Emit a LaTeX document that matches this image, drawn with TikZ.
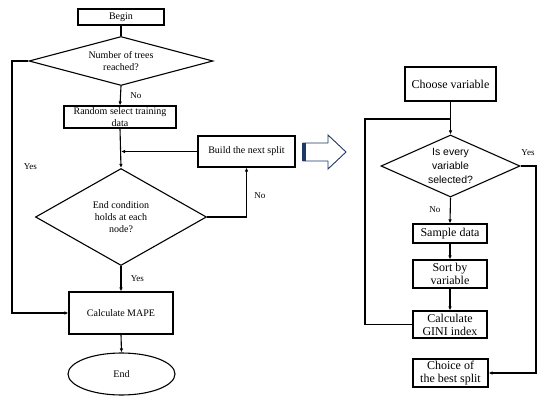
\documentclass[tikz,border=0pt]{standalone}
\usepackage{fontspec}
\setmainfont{Liberation Serif}
\newfontfamily\sansf{Liberation Sans}
\usetikzlibrary{shapes.geometric,arrows.meta}
\definecolor{arrownavy}{RGB}{31,56,100}
\begin{document}
\begin{tikzpicture}[x=1pt,y=-1pt,line width=1.1pt,
  box/.style={draw,rectangle,align=center,inner sep=1pt,font=\fontsize{10}{12}\selectfont},
  bigbox/.style={draw,rectangle,align=center,inner sep=1pt,font=\fontsize{12}{13}\selectfont},
  decide/.style={draw,diamond,inner sep=0pt,align=center,font=\fontsize{10}{12}\selectfont},
  lab/.style={font=\fontsize{9}{10}\selectfont},
  flow/.style={-{Latex[length=4pt,width=3.5pt]}}]
\useasboundingbox (0,0) rectangle (550,402);

% left chart
\node[box,minimum width=86pt,minimum height=16pt] (begin) at (121,17) {Begin};
\node[decide,shape aspect=3.75,minimum width=184pt,minimum height=49pt] (trees) at (121,61) {Number of trees\\reached?};
\node[box,minimum width=112pt,minimum height=22pt,inner ysep=0pt] (random) at (120,117) {Random select training\\data};
\node[box,minimum width=97pt,minimum height=31pt] (split) at (246.5,151.5) {Build the next split};
\node[decide,shape aspect=1.76,minimum width=171pt,minimum height=97pt] (endcond) at (121,217) {End condition\\holds at each\\node?};
\node[box,minimum width=104pt,minimum height=42pt] (mape) at (121,313) {Calculate MAPE};
\node[draw,ellipse,minimum width=107pt,minimum height=42pt,font=\fontsize{10}{12}\selectfont] (end) at (121.5,374) {End};
\coordinate (join) at (121,151.5);

\draw (begin) -- (trees);
\draw[flow] (trees.south) -- (random.north) node[lab,midway,right=6pt] {No};
\draw[flow] (random.south) -- (endcond.north);
\draw[flow] (split.west) -- (join);
\draw[flow] (endcond.east) -| (split.south) node[lab,pos=0.72,right=4pt] {No};
\draw[flow] (endcond.south) -- (mape.north) node[lab,midway,right=6pt] {Yes};
\draw[flow] (trees.west) -- (12,61) |- (mape.west) node[lab,pos=0.21,right=8pt] {Yes};
\draw[flow] (mape.south) -- (end.north);

% hollow arrow
\draw[arrownavy,fill=white,line width=0.9pt] (303,143) -- (328,143) -- (328,135) -- (346,152)
  -- (328,169) -- (328,161) -- (303,161) -- cycle;
\fill[arrownavy] (302,143) rectangle (306,161);

% right chart
\node[bigbox,minimum width=91pt,minimum height=34pt] (choose) at (450.5,84) {Choose variable};
\node[decide,shape aspect=2.24,minimum width=139pt,minimum height=62pt,font=\sansf\fontsize{10.5}{14}\selectfont] (every) at (450.5,166) {Is every\\variable\\selected?};
\node[bigbox,minimum width=74pt,minimum height=19pt] (sample) at (450,233.5) {Sample data};
\node[bigbox,minimum width=74pt,minimum height=28pt] (sort) at (450,274) {Sort by\\variable};
\node[bigbox,minimum width=74pt,minimum height=27pt] (gini) at (450,324.5) {Calculate\\GINI index};
\node[bigbox,minimum width=75pt,minimum height=28pt] (choice) at (450.5,373) {Choice of\\the best split};
\coordinate (loop) at (450.5,119);

\draw[flow] (choose.south) -- (every.north);
\draw (gini.west) -- (365,324.5) |- (loop);
\draw[flow] (every.south) -- (sample.north) node[lab,pos=0.45,left=6pt] {No};
\draw[flow] (sample) -- (sort);
\draw[flow] (sort) -- (gini);
\draw[flow] (every.east) -- (536,166) |- (choice.east);
\node[lab] (yes) at (528,153) {Yes};
\end{tikzpicture}
\end{document}
